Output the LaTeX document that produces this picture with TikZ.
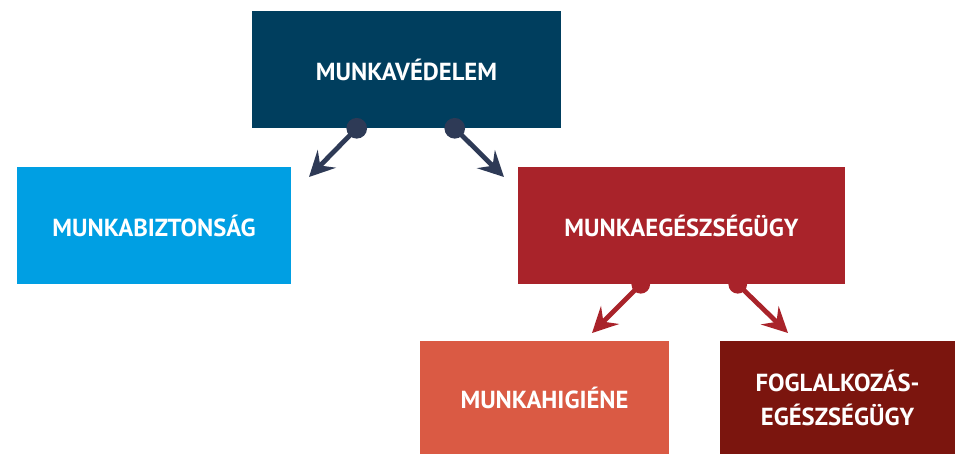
\documentclass[tikz,border=0pt]{standalone}
\usepackage{fontspec}
\setmainfont{PT Sans}
\usetikzlibrary{arrows.meta,positioning,calc}
\definecolor{navybox}{RGB}{0,62,94}
\definecolor{navyline}{RGB}{46,58,86}
\definecolor{skyblue}{RGB}{0,159,227}
\definecolor{wine}{RGB}{169,35,42}
\definecolor{coral}{RGB}{218,90,68}
\definecolor{maroon}{RGB}{123,21,14}

\begin{document}
\begin{tikzpicture}[
    x=0.75pt, y=-0.75pt,
    box/.style={rectangle, minimum height=87.75pt, inner sep=0pt, align=center,
        text=white, font=\bfseries\fontsize{18.5}{25.5}\selectfont},
    smallbox/.style={box, minimum height=84.75pt},
    arrow/.style={line width=3.6pt, -{Stealth[length=19pt,width=19pt,inset=7pt]}},
    dot/.style={circle, inner sep=0pt, minimum size=15.5pt}
]
    \useasboundingbox (0,0) rectangle (955,454);

    % Top level
    \node[box, fill=navybox, minimum width=231.75pt] (vedelem) at (406.5,69.5) {MUNKAVÉDELEM};

    % Second level
    \node[box, fill=skyblue, minimum width=205.5pt] (biztonsag) at (154,225.5) {MUNKABIZTONSÁG};
    \node[box, fill=wine, minimum width=245.25pt] (egeszseg) at (681.5,225.5) {MUNKAEGÉSZSÉGÜGY};

    % Third level
    \node[smallbox, fill=coral, minimum width=186.75pt] (higiene) at (544.5,397.5) {MUNKAHIGIÉNE};
    \node[smallbox, fill=maroon, minimum width=177pt, right=37.5pt of higiene] (foglalk) {FOGLALKOZÁS-\\EGÉSZSÉGÜGY};

    % Connector ends
    \coordinate (v1) at ($(vedelem.south west)+(105,0)$);
    \coordinate (v2) at ($(vedelem.south west)+(203,0)$);
    \coordinate (e1) at ($(egeszseg.south west)+(123,0)$);
    \coordinate (e2) at ($(egeszseg.south west)+(220,0)$);
    \coordinate (t1) at (309,177);
    \coordinate (t2) at (504,177);
    \coordinate (t3) at (592,333);
    \coordinate (t4) at (788,333);

    % Edges
    \draw[arrow, navyline] (v1) -- (t1);
    \draw[arrow, navyline] (v2) -- (t2);
    \draw[arrow, wine] (e1) -- (t3);
    \draw[arrow, wine] (e2) -- (t4);

    % Dots
    \node[dot, fill=navyline] at (v1) {};
    \node[dot, fill=navyline] at (v2) {};
    \node[dot, fill=wine, minimum size=14pt] at (e1) {};
    \node[dot, fill=wine, minimum size=14pt] at (e2) {};
\end{tikzpicture}
\end{document}
